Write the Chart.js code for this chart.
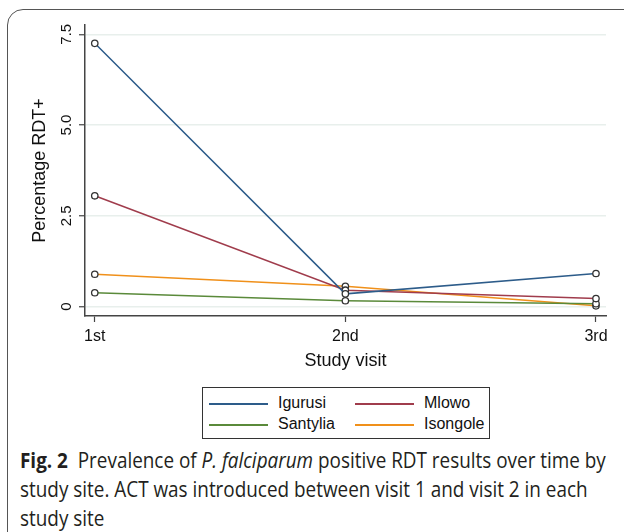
<!DOCTYPE html>
<html>
<head>
<meta charset="utf-8">
<script src="https://cdn.jsdelivr.net/npm/chart.js@4.4.1/dist/chart.umd.min.js"></script>
<style>
  body { margin: 0; width: 624px; height: 532px; overflow: hidden; background: #fff; position: relative; }
  #frame { position: absolute; left: 7px; top: 9px; width: 700px; height: 600px;
           border: 1.5px solid #555; border-radius: 16px; }
  #chartWrap { position: absolute; left: 0; top: 0; width: 624px; height: 380px; }
  #legend { position: absolute; left: 202px; top: 387px; width: 288px; height: 52px;
            box-sizing: border-box; border: 1px solid #333; font-family: "Liberation Sans", Arial, sans-serif;
            font-size: 16px; color: #111; }
  .item { position: absolute; height: 20px; line-height: 20px; }
  .item span.line { position: absolute; left: 0; top: 10px; width: 59px; height: 0; border-top: 2px solid; }
  .item span.txt { position: absolute; left: 69px; top: 0; white-space: nowrap; }
  #caption { position: absolute; left: 20px; top: 446px; font-family: "Open Sans", sans-serif;
             font-size: 21px; line-height: 29px; color: #231f20; white-space: nowrap;
             transform: scaleX(0.9); transform-origin: left top; }
</style>
</head>
<body>
<div id="frame"></div>
<div id="chartWrap"><canvas id="rdtChart" width="624" height="380"></canvas></div>
<div id="legend"></div>
<div id="caption"><b>Fig. 2</b>&nbsp; Prevalence of <i>P. falciparum</i> positive RDT results over time by<br>study site. ACT was introduced between visit 1 and visit 2 in each<br>study site</div>
<script>
const visits = ['1st', '2nd', '3rd'];
const yTicks = [0, 2.5, 5, 7.5];
const yTickLabels = ['0', '2.5', '5.0', '7.5'];

const siteNames = ['Igurusi', 'Mlowo', 'Santylia', 'Isongole'];
const igurusi = [7.25, 0.35, 0.91];
const mlowo = [3.05, 0.45, 0.22];
const santylia = [0.38, 0.16, 0.08];
const isongole = [0.89, 0.56, 0.02];
const siteColors = ['#2d5c8a', '#a03c4c', '#5a8a3a', '#f0901a'];

const series = [igurusi, mlowo, santylia, isongole];

const datasets = series.map((vals, i) => ({
    label: siteNames[i],
    data: vals.map((v, j) => ({ x: j + 1, y: v })),
    borderColor: siteColors[i],
    borderWidth: 1.5,
    pointRadius: 3.2,
    pointBorderWidth: 1.3,
    pointBorderColor: '#333',
    pointBackgroundColor: '#fff',
    tension: 0,
}));

// y tick labels in Stata style (rotated), drawn at the scale's own tick positions
const rotatedYLabels = {
    id: 'rotatedYLabels',
    afterDraw(chart) {
        const scale = chart.scales.y;
        const ctx = chart.ctx;
        ctx.save();
        ctx.font = '15px "Liberation Sans", Arial, sans-serif';
        ctx.fillStyle = '#111';
        ctx.textAlign = 'center';
        ctx.textBaseline = 'middle';
        scale.ticks.forEach(t => {
            const y = scale.getPixelForValue(t.value);
            ctx.save();
            ctx.translate(67, y);
            ctx.rotate(-Math.PI / 2);
            ctx.fillText(t.label, 0, 0);
            ctx.restore();
        });
        ctx.restore();
    }
};

const ctx = document.getElementById('rdtChart');
const chart = new Chart(ctx, {
    type: 'line',
    data: { datasets: datasets },
    options: {
        responsive: false,
        animation: false,
        layout: { padding: { top: 25, right: 18, left: 0, bottom: 0 } },
        plugins: { legend: { display: false }, tooltip: { enabled: false } },
        scales: {
            x: {
                type: 'linear',
                min: 0.961,
                max: 3.04,
                afterBuildTicks: s => { s.ticks = visits.map((v, i) => ({ value: i + 1 })); },
                afterFit: s => { s.height = 64; },
                ticks: {
                    callback: v => visits[v - 1],
                    font: { family: '"Liberation Sans", Arial, sans-serif', size: 16 },
                    color: '#111',
                    padding: 5,
                    maxRotation: 0,
                },
                grid: { drawOnChartArea: false, tickLength: 6, tickColor: '#444', tickWidth: 1.2 },
                border: { color: '#444', width: 1.5 },
                title: {
                    display: true,
                    text: 'Study visit',
                    font: { family: '"Liberation Sans", Arial, sans-serif', size: 18 },
                    color: '#111',
                    padding: { top: 0, bottom: 8 },
                },
            },
            y: {
                min: -0.26,
                max: 7.755,
                afterBuildTicks: s => { s.ticks = yTicks.map(v => ({ value: v })); },
                afterFit: s => { s.width = 85; },
                ticks: {
                    callback: v => yTickLabels[yTicks.indexOf(v)],
                    color: 'rgba(0,0,0,0)',
                    font: { size: 14 },
                },
                grid: { color: '#e8efec', lineWidth: 1.5, tickLength: 6, tickColor: '#444', tickWidth: 1.2 },
                border: { color: '#444', width: 1.5 },
                title: {
                    display: true,
                    text: 'Percentage RDT+',
                    font: { family: '"Liberation Sans", Arial, sans-serif', size: 18 },
                    color: '#111',
                    padding: { top: 29, bottom: 0 },
                },
            },
        },
    },
    plugins: [rotatedYLabels],
});

// legend built from the chart's datasets, two per row
const legend = document.getElementById('legend');
chart.data.datasets.forEach((ds, i) => {
    const item = document.createElement('div');
    item.className = 'item';
    item.style.left = (i % 2 === 0 ? 6 : 152) + 'px';
    item.style.top = (i < 2 ? 5 : 26) + 'px';
    item.innerHTML = '<span class="line" style="border-color:' + ds.borderColor + '"></span><span class="txt">' + ds.label + '</span>';
    legend.appendChild(item);
});
</script>
</body>
</html>
